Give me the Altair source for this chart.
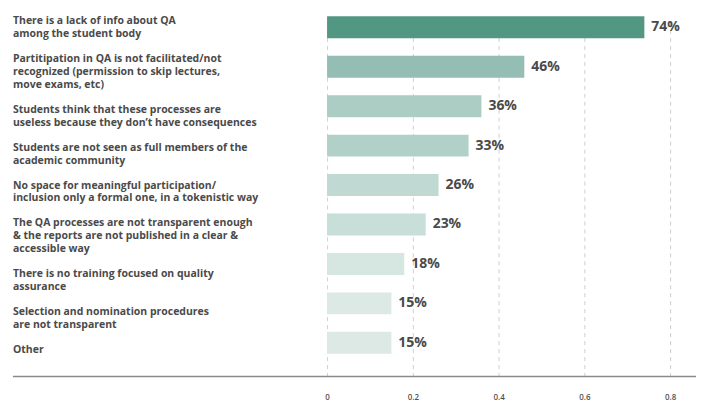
import altair as alt
import pandas as pd

categories = [
    "There is a lack of info about QA\namong the student body",
    "Partitipation in QA is not facilitated/not\nrecognized (permission to skip lectures,\nmove exams, etc)",
    "Students think that these processes are\nuseless because they don\u2019t have consequences",
    "Students are not seen as full members of the\nacademic community",
    "No space for meaningful participation/\ninclusion only a formal one, in a tokenistic way",
    "The QA processes are not transparent enough\n& the reports are not published in a clear &\naccessible way",
    "There is no training focused on quality\nassurance",
    "Selection and nomination procedures\nare not transparent",
    "Other",
]
values = [0.74, 0.46, 0.36, 0.33, 0.26, 0.23, 0.18, 0.15, 0.15]
labels = ["74%", "46%", "36%", "33%", "26%", "23%", "18%", "15%", "15%"]
colors = ["#529782", "#94beb3", "#abcdc4", "#b1d1c8", "#c0d9d2",
          "#c8ded8", "#d6e6e1", "#dce9e5", "#dce9e5"]
x_ticks = [0, 0.2, 0.4, 0.6, 0.8]

df = pd.DataFrame({"cat": categories, "val": values, "lab": labels, "col": colors})

FONT = "Open Sans"
TXT = "#4a4a4a"
LINE_H = 13
BLOCK_GAP = 25
PLOT_H = 370

band_y = alt.Y(
    "cat:N",
    sort=categories,
    scale=alt.Scale(range=[0, 356], paddingInner=0.444, paddingOuter=0.222),
    axis=None,
)

x_enc = alt.X(
    "val:Q",
    scale=alt.Scale(domain=[0, 0.8], nice=False),
    axis=alt.Axis(
        title=None, values=x_ticks, domain=False, ticks=False,
        grid=True, gridDash=[4, 4], gridColor="#cfcfcf", gridWidth=1,
        labelFont=FONT, labelFontSize=8, labelFontWeight=600,
        labelColor="#505050", labelPadding=17, format="~g", labelFlush=False,
    ),
)

bars = alt.Chart(df).mark_bar(size=22).encode(
    x=x_enc,
    y=band_y,
    color=alt.Color("col:N", scale=None, legend=None),
)

text = alt.Chart(df).mark_text(
    align="left", baseline="middle", dx=7, font=FONT, fontSize=14,
    fontWeight="bold", color=TXT,
).encode(
    x="val:Q",
    y=band_y,
    text="lab:N",
)

axis_line = alt.Chart(pd.DataFrame({"a": [0]})).mark_rule(
    color="#8a8a8a", strokeWidth=1.5
).encode(
    x=alt.value(-315), x2=alt.value(370), y=alt.value(PLOT_H)
)

data_layers = alt.layer(bars, text, axis_line)

# category labels stacked as text blocks with a constant gap between blocks
cat_labels = alt.Chart(df).transform_calculate(
    step=f"(length(split(datum.cat, '\\n')) - 1) * {LINE_H} + {BLOCK_GAP}"
).transform_window(
    prev="sum(step)", frame=[None, -1]
).transform_calculate(
    ypos="16.5 + (isValid(datum.prev) ? datum.prev : 0)"
).mark_text(
    align="left", baseline="alphabetic", lineBreak="\n", lineHeight=LINE_H,
    font=FONT, fontSize=10.5, fontWeight="bold", color=TXT,
).encode(
    x=alt.value(-315),
    y=alt.Y("ypos:Q", scale=alt.Scale(domain=[0, PLOT_H], range=[0, PLOT_H]), axis=None),
    text="cat:N",
)

chart = alt.layer(data_layers, cat_labels).resolve_scale(y="independent").properties(
    width=344, height=PLOT_H,
    padding={"left": 12, "top": 7, "right": 5, "bottom": 0},
    background="white",
).configure_view(stroke=None)

chart.save("out.html", embed_options={"renderer": "svg", "actions": False})
